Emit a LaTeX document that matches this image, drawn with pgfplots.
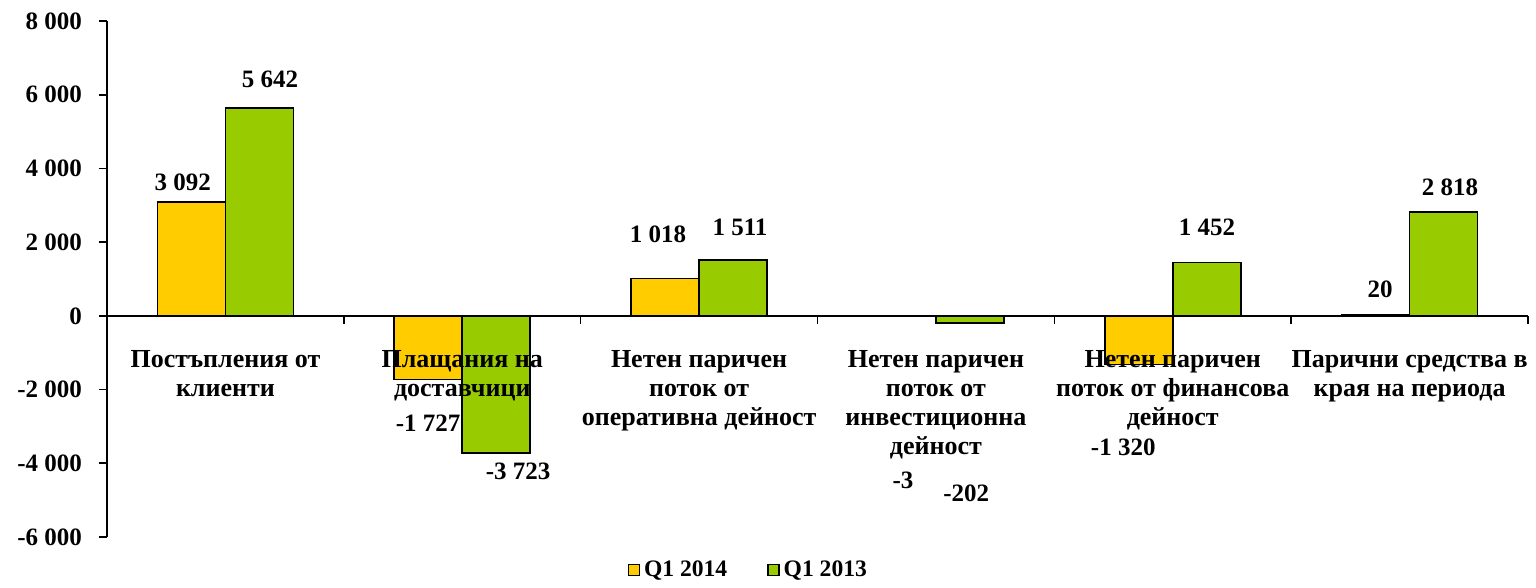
\documentclass[border=0pt]{standalone}
\usepackage{fontspec}
\setmainfont{Liberation Serif}
\usepackage{pgfplots}
\pgfplotsset{compat=1.18}
\definecolor{cyel}{HTML}{FFCC00}
\definecolor{cgrn}{HTML}{99CC00}
\begin{document}
\begin{tikzpicture}
\begin{axis}[
  scale only axis, width=710.5pt, height=258pt,
  xmin=-0.5, xmax=5.5, ymin=-6000, ymax=8000,
  axis y line*=left, axis x line*=middle,
  axis line style={-, line width=1pt},
  xtick={-0.5,0.5,1.5,2.5,3.5,4.5,5.5}, xticklabels={},
  xtick align=outside, ytick align=outside,
  major tick length=4pt,
  tick style={black, line width=0.8pt},
  ytick={-6000,-4000,-2000,0,2000,4000,6000,8000},
  yticklabels={-6 000,-4 000,-2 000,0,2 000,4 000,6 000,8 000},
  yticklabel style={xshift=-5pt},
  font=\fontsize{12.5}{14.5}\selectfont\bfseries,
  ybar=0pt, bar width=34pt,
  clip=false,
  legend columns=2,
  legend style={draw=none, fill=none, at={(0.452,0)}, anchor=center, yshift=-16.5pt,
    font=\fontsize{11.8}{14.3}\selectfont\bfseries,
    /tikz/every even column/.append style={column sep=18pt}},
  legend image code/.code={\draw[#1,draw=black,line width=0.7pt] (0pt,-2.75pt) rectangle (5.5pt,2.75pt);},
]
\addplot[fill=cyel, draw=black, line width=0.8pt] coordinates {(0,3092) (1,-1727) (2,1018) (3,-3) (4,-1320) (5,20)};
\addplot[fill=cgrn, draw=black, line width=0.8pt] coordinates {(0,5642) (1,-3723) (2,1511) (3,-202) (4,1452) (5,2818)};
\legend{Q1 2014, Q1 2013}
% data labels
\node at (axis cs:-0.18,3620) {3 092};
\node at (axis cs:0.188,6423) {5 642};
\node at (axis cs:0.856,-2900) {-1 727};
\node at (axis cs:1.236,-4230) {-3 723};
\node at (axis cs:1.827,2222) {1 018};
\node at (axis cs:2.173,2412) {1 511};
\node at (axis cs:2.861,-4472) {-3};
\node at (axis cs:3.128,-4824) {-202};
\node at (axis cs:3.791,-3560) {-1 320};
\node at (axis cs:4.145,2412) {1 452};
\node at (axis cs:4.876,720) {20};
\node at (axis cs:5.171,3496) {2 818};
% category labels
\begin{scope}[every node/.style={anchor=north, align=center, inner sep=0pt, font=\fontsize{13}{14.5}\selectfont\bfseries}]
\node at (axis cs:0,-930) {Постъпления от\\клиенти};
\node at (axis cs:1,-930) {Плащания на\\доставчици};
\node at (axis cs:2,-930) {Нетен паричен\\поток от\\оперативна дейност};
\node at (axis cs:3,-930) {Нетен паричен\\поток от\\инвестиционна\\дейност};
\node at (axis cs:4,-930) {Нетен паричен\\поток от финансова\\дейност};
\node at (axis cs:5,-930) {Парични средства в\\края на периода};
\end{scope}
\end{axis}
\path ([xshift=-53.5pt,yshift=-22pt]current axis.south west) rectangle ([xshift=4pt,yshift=10.5pt]current axis.north east);
\end{tikzpicture}
\end{document}
